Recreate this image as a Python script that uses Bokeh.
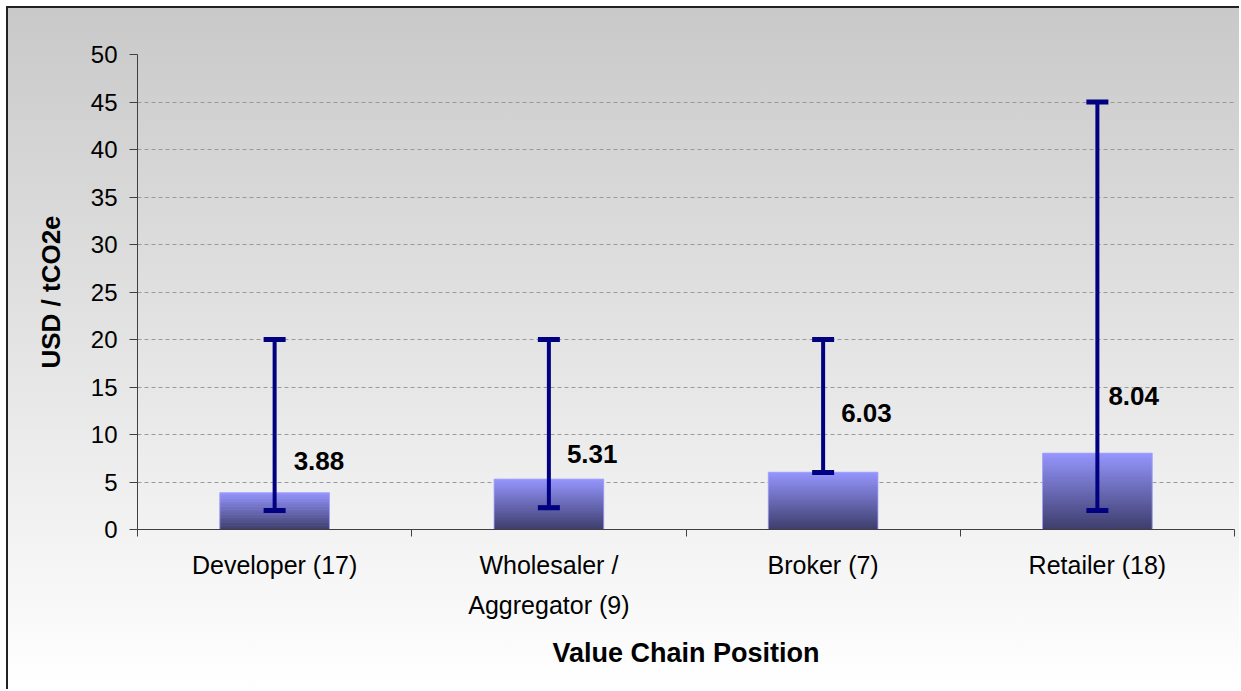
from bokeh.plotting import figure
from bokeh.models import (ColumnDataSource, Range1d, FixedTicker, Whisker, TeeHead)
from bokeh.core.properties import value
from bokeh.embed import file_html
from bokeh.resources import INLINE

# ---- data ----
categories = ["Developer (17)", "Wholesaler /\nAggregator (9)", "Broker (7)", "Retailer (18)"]
means = [3.88, 5.31, 6.03, 8.04]
lows = [2.0, 2.3, 6.0, 2.0]
highs = [20.0, 20.0, 20.0, 45.0]
y_ticks = [0, 5, 10, 15, 20, 25, 30, 35, 40, 45, 50]

# ---- layout / style (not data) ----
label_y = [7.2, 8.0, 12.3, 14.1]
label_dx = [19, 18, 18, 11]
FONT = "Liberation Sans"

xs = [i + 0.5 for i in range(len(categories))]

p = figure(width=1233, height=683, output_backend="svg", toolbar_location=None,
           x_range=Range1d(0, len(categories)), y_range=Range1d(0, 50),
           min_border_left=129, min_border_right=7, min_border_top=46, min_border_bottom=162)
p.background_fill_color = None
p.border_fill_color = None
p.outline_line_color = None
p.styles = {"background": "linear-gradient(to bottom, #c9c9c9 0%, #e4e4e4 50%, #ffffff 100%)",
            "margin-left": "6px", "margin-top": "6px",
            "border-left": "2px solid #222222", "border-top": "2px solid #222222"}

# gradient bars built from overlapping strips
N = 60
top_c = (150, 150, 255)
bot_c = (62, 62, 108)
sx, sb, st, sc = [], [], [], []
for x, m in zip(xs, means):
    for i in range(N):
        t = (i + 0.5) / N
        r = int(bot_c[0] + (top_c[0] - bot_c[0]) * t)
        g = int(bot_c[1] + (top_c[1] - bot_c[1]) * t)
        b = int(bot_c[2] + (top_c[2] - bot_c[2]) * t)
        sx.append(x)
        sb.append(m * i / N)
        st.append(min(m, m * (i + 2.0) / N))
        sc.append("#%02x%02x%02x" % (r, g, b))
p.vbar(x=sx, bottom=sb, top=st, width=0.4, fill_color=sc, line_color=None)
p.vbar(x=xs, top=means, bottom=0, width=0.4, fill_color=None,
       line_color="#a8a8ff", line_width=1, line_alpha=0.8)

# error bars
src = ColumnDataSource(dict(x=xs, lo=lows, hi=highs, m=means,
                            lab=["%.2f" % v for v in means], ly=label_y, dx=label_dx))
w = Whisker(base="x", lower="lo", upper="hi", source=src, dimension="height",
            line_color="#000080", line_width=4, level="annotation",
            upper_head=TeeHead(size=22, line_color="#000080", line_width=5),
            lower_head=TeeHead(size=22, line_color="#000080", line_width=5))
p.add_layout(w)

p.text(x="x", y="ly", text="lab", source=src, x_offset="dx",
       text_font=value(FONT), text_font_style="bold", text_font_size="26px",
       text_align="left", text_baseline="middle", text_color="#000000")

# axes
p.yaxis.ticker = FixedTicker(ticks=y_ticks)
p.yaxis.major_tick_out = 8
p.yaxis.major_tick_in = 0
p.yaxis.minor_tick_out = 0
p.yaxis.minor_tick_in = 0
p.yaxis.axis_line_color = "#404040"
p.yaxis.major_tick_line_color = "#404040"
p.yaxis.major_label_standoff = 12
p.yaxis.major_label_text_font = FONT
p.yaxis.major_label_text_font_size = "24px"
p.yaxis.major_label_text_color = "#000000"
p.yaxis.axis_label = "USD / tCO2e"
p.yaxis.axis_label_text_font = FONT
p.yaxis.axis_label_text_font_style = "bold"
p.yaxis.axis_label_text_font_size = "26px"
p.yaxis.axis_label_text_color = "#000000"
p.yaxis.axis_label_standoff = 22

p.xaxis.ticker = FixedTicker(ticks=xs, minor_ticks=list(range(len(categories) + 1)))
p.xaxis.major_label_overrides = {x: c for x, c in zip(xs, categories)}
p.xaxis.major_tick_out = 0
p.xaxis.major_tick_in = 0
p.xaxis.minor_tick_out = 7
p.xaxis.minor_tick_in = 0
p.xaxis.minor_tick_line_color = "#404040"
p.xaxis.axis_line_color = "#404040"
p.xaxis.major_label_standoff = 14
p.xaxis.major_label_text_font = FONT
p.xaxis.major_label_text_font_size = "25px"
p.xaxis.major_label_text_line_height = 1.45
p.xaxis.major_label_text_color = "#000000"
p.xaxis.axis_label = "Value Chain Position"
p.xaxis.axis_label_text_font = FONT
p.xaxis.axis_label_text_font_style = "bold"
p.xaxis.axis_label_text_font_size = "27px"
p.xaxis.axis_label_text_color = "#000000"
p.xaxis.axis_label_standoff = 16

p.xgrid.grid_line_color = None
p.ygrid.ticker = FixedTicker(ticks=y_ticks)
p.ygrid.grid_line_color = "#9a9a9a"
p.ygrid.grid_line_dash = "4 3"
p.ygrid.grid_line_width = 1

open("out.html", "w").write(file_html(p, INLINE))
